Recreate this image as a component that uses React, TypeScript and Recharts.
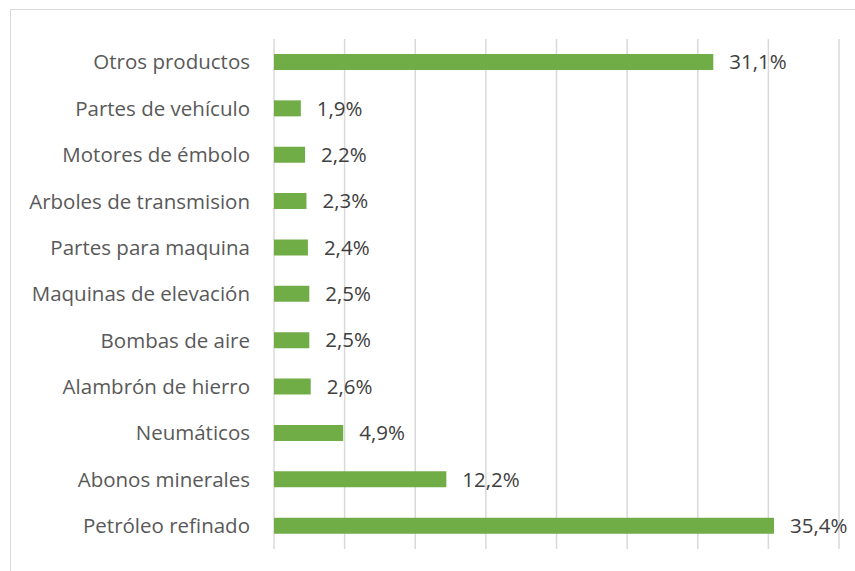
import React from 'react';
import { BarChart, Bar, XAxis, YAxis, CartesianGrid, LabelList } from 'recharts';

const categories = [
  'Otros productos',
  'Partes de vehículo',
  'Motores de émbolo',
  'Arboles de transmision',
  'Partes para maquina',
  'Maquinas de elevación',
  'Bombas de aire',
  'Alambrón de hierro',
  'Neumáticos',
  'Abonos minerales',
  'Petróleo refinado',
];

const shares = [31.1, 1.9, 2.2, 2.3, 2.4, 2.5, 2.5, 2.6, 4.9, 12.2, 35.4];

const gridTicks = [0, 5, 10, 15, 20, 25, 30, 35, 40];

const data = categories.map((name, i) => ({ name, value: shares[i] }));

const fontFamily = '"Open Sans", Lato, sans-serif';
const textColor = '#595959';

const formatPct = (v: any) => `${Number(v).toFixed(1).replace('.', ',')}%`;

const App: React.FC = () => {
  return (
    <div style={{ position: 'fixed', left: 0, top: 0, width: 855, height: 571, background: '#fff', fontFamily }}>
      <div
        style={{
          position: 'absolute',
          left: 10,
          top: 9,
          width: 900,
          height: 600,
          borderLeft: '1.5px solid #d9d9d9',
          borderTop: '1.5px solid #d9d9d9',
        }}
      />
      <div style={{ position: 'absolute', left: 0, top: 0 }}>
        <BarChart
          width={855}
          height={571}
          data={data}
          layout="vertical"
          margin={{ top: 39, right: 16, left: 0, bottom: 22 }}
          barSize={16}
        >
          <CartesianGrid horizontal={false} stroke="#d9d9d9" strokeWidth={1.5} />
          <XAxis type="number" domain={[0, 40]} ticks={gridTicks} hide />
          <YAxis
            type="category"
            dataKey="name"
            width={274}
            axisLine={false}
            tickLine={false}
            tickSize={0}
            tickMargin={24}
            interval={0}
            tick={{ fill: textColor, fontSize: 20.5, fontFamily }}
          />
          <Bar dataKey="value" fill="#70ad47" isAnimationActive={false}>
            <LabelList
              dataKey="value"
              position="right"
              offset={16}
              formatter={formatPct}
              style={{ fill: '#404040', fontSize: 20.5, fontFamily }}
            />
          </Bar>
        </BarChart>
      </div>
    </div>
  );
};

export default App;
